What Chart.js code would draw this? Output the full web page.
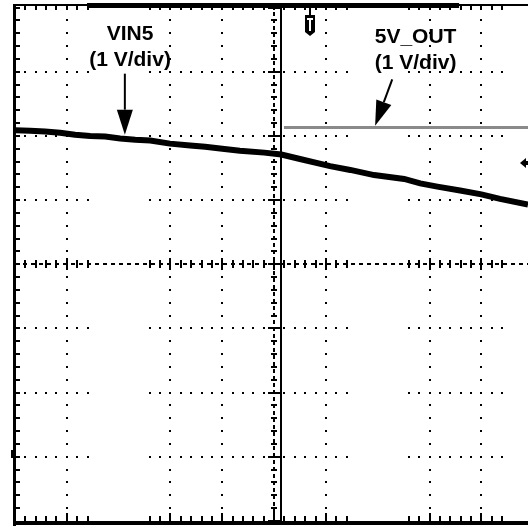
<!DOCTYPE html>
<html>
<head>
<meta charset="utf-8">
<script src="https://cdn.jsdelivr.net/npm/chart.js@4.4.0/dist/chart.umd.min.js"></script>
<style>
  html, body { margin: 0; padding: 0; background: #fff; overflow: hidden; }
  canvas { display: block; }
</style>
</head>
<body>
<canvas id="grafico" width="528" height="531"></canvas>
<script>
// DADOS (em divisões da tela do osciloscópio)
const vin5X = [0.00, 0.29, 0.58, 0.87, 1.16, 1.45, 1.74, 2.03, 2.32, 2.61, 2.99, 3.38, 3.67, 4.00,
               4.34, 4.81, 5.14, 5.50, 6.08, 6.47, 6.93, 7.51, 7.82, 8.15, 8.59, 9.00, 9.36, 9.90];
const vin5Y = [6.09, 6.08, 6.07, 6.05, 6.02, 6.00, 5.99, 5.96, 5.94, 5.93, 5.88, 5.85, 5.83, 5.80,
               5.77, 5.74, 5.71, 5.64, 5.53, 5.47, 5.39, 5.33, 5.26, 5.21, 5.15, 5.09, 5.02, 4.93];
const outX = [5.19, 6.50, 8.00, 9.90];
const outY = [6.13, 6.13, 6.13, 6.13];

// GRATICULA
const gradeX = [1, 3, 4, 6, 8, 9];
const gradeY = [1, 2, 3, 5, 6, 7];
const centroX = 5;
const centroY = 4;
const gatilhoX = 5.14;
const marcaGatilhoX = 5.69;
const nivelDireito = 5.58;
const nivelEsquerdo = 1.04;

// TEXTOS
const rotuloVin = ['VIN5', '(1 V/div)'];
const rotuloOut = ['5V_OUT', '(1 V/div)'];

const X_MAX = 9.9;
const Y_MAX = 8.04;

function menores(grade, min, max) {
  const pos = [];
  grade.forEach(g => {
    for (let k = -2; k <= 2; k++) {
      const v = +(g + k * 0.2).toFixed(2);
      if (v >= min && v <= max && !pos.includes(v)) pos.push(v);
    }
  });
  return pos;
}

function seta(ctx, x1, y1, x2, y2) {
  const ang = Math.atan2(y2 - y1, x2 - x1);
  const L = 25, W = 8;
  const bx = x2 - L * Math.cos(ang), by = y2 - L * Math.sin(ang);
  ctx.beginPath();
  ctx.moveTo(x1, y1);
  ctx.lineTo(bx, by);
  ctx.lineWidth = 2;
  ctx.stroke();
  ctx.beginPath();
  ctx.moveTo(x2, y2);
  ctx.lineTo(bx + W * Math.sin(ang), by - W * Math.cos(ang));
  ctx.lineTo(bx - W * Math.sin(ang), by + W * Math.cos(ang));
  ctx.closePath();
  ctx.fill();
}

const graticula = {
  id: 'graticula',
  beforeDatasetsDraw(chart) {
    const { ctx, chartArea: a, scales: { x, y } } = chart;
    ctx.save();
    ctx.fillStyle = '#000';
    ctx.strokeStyle = '#000';

    const minX = menores([0, ...gradeX, centroX], 0, X_MAX);

    // linhas verticais pontilhadas
    gradeX.forEach(g => {
      const px = Math.round(x.getPixelForValue(g));
      for (let t = 0; t <= Y_MAX; t += 0.2) {
        ctx.fillRect(px - 1, Math.round(y.getPixelForValue(t)) - 1, 2, 2);
      }
    });

    // linhas horizontais pontilhadas (parciais)
    gradeY.forEach(g => {
      const py = Math.round(y.getPixelForValue(g));
      minX.forEach(v => {
        if (v === centroX) return;
        ctx.fillRect(Math.round(x.getPixelForValue(v)) - 1, py - 1, 2, 2);
      });
    });

    // eixo central horizontal
    const cy = Math.round(y.getPixelForValue(centroY));
    ctx.lineWidth = 2;
    ctx.setLineDash([4, 4]);
    ctx.beginPath();
    ctx.moveTo(a.left, cy);
    ctx.lineTo(a.right, cy);
    ctx.stroke();
    ctx.setLineDash([]);
    minX.forEach(v => {
      const px = Math.round(x.getPixelForValue(v));
      const inteiro = Math.abs(v - Math.round(v)) < 0.01;
      const h = inteiro ? 6 : 4;
      ctx.fillRect(px - 1, cy - h, 2, h * 2);
    });

    // eixo central vertical
    const cx = Math.round(x.getPixelForValue(centroX));
    ctx.setLineDash([4, 3]);
    ctx.beginPath();
    ctx.moveTo(cx, a.top);
    ctx.lineTo(cx, a.bottom);
    ctx.stroke();
    ctx.setLineDash([]);
    for (let t = 0; t <= Y_MAX; t += 0.2) {
      const py = Math.round(y.getPixelForValue(t));
      const inteiro = Math.abs(t - Math.round(t)) < 0.01;
      const w = inteiro ? 6 : 3;
      ctx.fillRect(cx - w, py - 1, w * 2, 2);
    }

    // linha de gatilho
    const gx = Math.round(x.getPixelForValue(gatilhoX));
    ctx.fillRect(gx - 1, a.top, 2, a.bottom - a.top + 3);

    ctx.restore();
  },
  afterDatasetsDraw(chart) {
    const { ctx, chartArea: a, scales: { x, y } } = chart;
    ctx.save();
    ctx.fillStyle = '#000';
    ctx.strokeStyle = '#000';

    const minX = menores([0, ...gradeX, centroX], 0, X_MAX);

    // moldura
    ctx.fillRect(a.left - 2, a.top - 1, 3, a.bottom - a.top + 6);
    ctx.fillRect(a.left - 2, a.bottom, a.right - a.left + 2, 4);
    ctx.fillRect(a.left - 2, a.top - 1, a.right - a.left + 2, 2);
    const barra1 = x.getPixelForValue(1.39), barra2 = x.getPixelForValue(8.57);
    ctx.fillRect(barra1, a.top - 2, barra2 - barra1, 5);

    // marcas da moldura
    for (let t = 0.2; t <= Y_MAX; t += 0.2) {
      const py = Math.round(y.getPixelForValue(t));
      ctx.fillRect(a.left, py - 1, 5, 2);
    }
    minX.forEach(v => {
      if (v < 0.1) return;
      const px = Math.round(x.getPixelForValue(v));
      const inteiro = Math.abs(v - Math.round(v)) < 0.01;
      ctx.fillRect(px - 1, a.bottom - (inteiro ? 8 : 5), 2, inteiro ? 8 : 5);
      ctx.fillRect(px - 1, a.top, 2, 5);
    });

    // marcador de gatilho "T"
    const tx = Math.round(x.getPixelForValue(marcaGatilhoX));
    ctx.fillRect(tx - 1, a.top, 2, 12);
    ctx.beginPath();
    ctx.moveTo(tx - 5, a.top + 10);
    ctx.lineTo(tx + 5, a.top + 10);
    ctx.lineTo(tx + 5, a.top + 27);
    ctx.lineTo(tx, a.top + 31);
    ctx.lineTo(tx - 5, a.top + 27);
    ctx.closePath();
    ctx.fill();
    ctx.fillStyle = '#fff';
    ctx.fillRect(tx - 3, a.top + 13, 6, 2);
    ctx.fillRect(tx - 1, a.top + 13, 2, 13);
    ctx.fillStyle = '#000';

    // marcador de nível à direita
    const ry = Math.round(y.getPixelForValue(nivelDireito));
    ctx.beginPath();
    ctx.moveTo(a.right - 8, ry);
    ctx.lineTo(a.right - 2, ry - 5);
    ctx.lineTo(a.right - 2, ry + 5);
    ctx.closePath();
    ctx.fill();
    ctx.fillRect(a.right - 3, ry - 2, 3, 4);

    // marcador de nível à esquerda
    const ly = Math.round(y.getPixelForValue(nivelEsquerdo));
    ctx.fillRect(a.left - 4, ly - 4, 3, 8);

    // textos
    ctx.font = 'bold 21px "Liberation Sans", Arial, sans-serif';
    ctx.textAlign = 'center';
    ctx.textBaseline = 'alphabetic';
    const vx = x.getPixelForValue(2.22);
    ctx.fillText(rotuloVin[0], vx, y.getPixelForValue(7.50));
    ctx.fillText(rotuloVin[1], vx, y.getPixelForValue(7.09));
    const ox = x.getPixelForValue(7.73);
    ctx.fillText(rotuloOut[0], ox, y.getPixelForValue(7.45));
    ctx.fillText(rotuloOut[1], ox, y.getPixelForValue(7.05));

    // setas
    seta(ctx, x.getPixelForValue(2.12), y.getPixelForValue(6.97),
              x.getPixelForValue(2.12), y.getPixelForValue(6.02));
    seta(ctx, x.getPixelForValue(7.28), y.getPixelForValue(6.88),
              x.getPixelForValue(6.95), y.getPixelForValue(6.16));

    ctx.restore();
  }
};

const canvas = document.getElementById('grafico');

new Chart(canvas.getContext('2d'), {
  type: 'line',
  data: {
    datasets: [
      {
        label: '5V_OUT',
        data: outX.map((v, i) => ({ x: v, y: outY[i] })),
        borderColor: '#8a8a8a',
        borderWidth: 3,
        pointRadius: 0,
        tension: 0
      },
      {
        label: 'VIN5',
        data: vin5X.map((v, i) => ({ x: v, y: vin5Y[i] })),
        borderColor: '#000',
        borderWidth: 6,
        pointRadius: 0,
        tension: 0
      }
    ]
  },
  options: {
    responsive: false,
    animation: false,
    devicePixelRatio: 1,
    layout: {
      padding: { left: 15, top: 5, right: 0, bottom: 10 }
    },
    plugins: {
      legend: { display: false },
      tooltip: { enabled: false }
    },
    scales: {
      x: { type: 'linear', display: false, min: 0, max: X_MAX },
      y: { type: 'linear', display: false, min: 0, max: Y_MAX }
    }
  },
  plugins: [graticula]
});
</script>
</body>
</html>
